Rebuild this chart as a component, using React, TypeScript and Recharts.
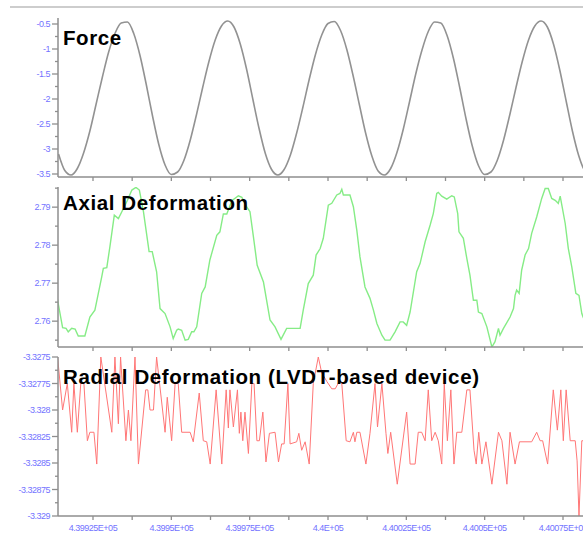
import React from "react";
import { LineChart, Line, XAxis, YAxis } from "recharts";

// shared time axis (s)
const TIME_DOMAIN: [number, number] = [439913.83, 440085.21];
const timeTicks = [
  439925, 439937.5, 439950, 439962.5, 439975, 439987.5, 440000,
  440012.5, 440025, 440037.5, 440050, 440062.5, 440075,
];

// force channel, sampled every 2 s from 439914
const forceStart = 439914;
const forceStep = 2;
const forceValues = [
  -3.1, -3.43, -3.52, -3.39, -3.08, -2.64, -2.1, -1.56, -1.06, -0.69,
  -0.48, -0.46, -0.69, -1.13, -1.71, -2.34, -2.91, -3.32, -3.51, -3.46,
  -3.23, -2.83, -2.32, -1.77, -1.25, -0.82, -0.54, -0.44, -0.56, -0.9,
  -1.4, -2.0, -2.59, -3.09, -3.41, -3.52, -3.41, -3.12, -2.68, -2.16,
  -1.61, -1.11, -0.72, -0.49, -0.45, -0.63, -1.01, -1.53, -2.11, -2.68,
  -3.14, -3.44, -3.52, -3.39, -3.07, -2.61, -2.06, -1.5, -1.02, -0.65,
  -0.46, -0.48, -0.73, -1.18, -1.76, -2.38, -2.93, -3.33, -3.51, -3.46,
  -3.23, -2.83, -2.32, -1.77, -1.25, -0.82, -0.54, -0.44, -0.56, -0.91,
  -1.43, -2.04, -2.64, -3.13, -3.44, -3.52, -3.43,
];

const axialTime = [
  439913.6, 439915.3, 439916.4, 439917.1, 439918.2, 439919.3, 439920.3, 439922.4, 439924.0, 439925.6,
  439926.7, 439927.8, 439928.3, 439929.4, 439930.4, 439931.8, 439933.1, 439934.2, 439936.0, 439937.4,
  439938.7, 439939.8, 439941.1, 439942.9, 439943.9, 439945.3, 439946.4, 439948.0, 439949.6, 439950.6,
  439951.7, 439952.2, 439953.3, 439954.4, 439955.4, 439956.5, 439957.2, 439958.1, 439959.7, 439960.8,
  439962.3, 439964.5, 439965.5, 439966.6, 439967.7, 439969.3, 439971.4, 439972.5, 439974.1, 439975.1,
  439976.2, 439977.4, 439979.4, 439981.5, 439983.1, 439985.0, 439986.8, 439991.1, 439992.1, 439993.7,
  439995.3, 439996.2, 439997.5, 439998.5, 440000.1, 440001.2, 440002.8, 440003.8, 440004.4, 440004.9,
  440007.0, 440008.1, 440009.2, 440010.2, 440011.8, 440013.4, 440014.5, 440015.6, 440017.2, 440018.2,
  440019.8, 440021.4, 440023.0, 440024.0, 440025.1, 440026.2, 440028.3, 440029.4, 440031.0, 440032.6,
  440033.6, 440034.7, 440035.2, 440036.3, 440037.9, 440039.5, 440040.3, 440041.4, 440041.8, 440043.2,
  440044.3, 440045.3, 440046.4, 440047.5, 440048.0, 440049.1, 440050.7, 440052.3, 440053.3, 440054.4,
  440054.9, 440056.0, 440058.1, 440059.2, 440059.7, 440060.2, 440061.0, 440061.8, 440062.9, 440064.0,
  440065.0, 440066.6, 440068.2, 440069.3, 440070.3, 440071.4, 440072.5, 440073.5, 440074.1, 440075.7,
  440076.7, 440077.8, 440079.1, 440080.1, 440081.0, 440081.4, 440083.6,
];
const axialValues = [
  2.766, 2.7583, 2.7581, 2.7572, 2.7581, 2.7579, 2.7561, 2.7561, 2.7611, 2.7629,
  2.7673, 2.7717, 2.7739, 2.7741, 2.7796, 2.7879, 2.787, 2.7888, 2.7918, 2.7945,
  2.7952, 2.7945, 2.7888, 2.7783, 2.7783, 2.773, 2.7633, 2.762, 2.7585, 2.7554,
  2.7576, 2.7579, 2.7576, 2.755, 2.7552, 2.7572, 2.7572, 2.7585, 2.7673, 2.769,
  2.7761, 2.7826, 2.7835, 2.7882, 2.7882, 2.7917, 2.793, 2.7926, 2.79, 2.7888,
  2.7822, 2.7747, 2.7703, 2.7603, 2.7585, 2.7552, 2.7581, 2.7581, 2.7629, 2.7699,
  2.7721, 2.7774, 2.7791, 2.7818, 2.7905, 2.791, 2.7932, 2.7936, 2.7947, 2.7932,
  2.7932, 2.7901, 2.7839, 2.7769, 2.769, 2.766, 2.7629, 2.7594, 2.7563, 2.755,
  2.755, 2.7572, 2.7598, 2.7598, 2.7589, 2.7624, 2.773, 2.7752, 2.7809, 2.7853,
  2.7883, 2.7936, 2.7939, 2.7929, 2.7921, 2.793, 2.7927, 2.7883, 2.7835, 2.7818,
  2.7765, 2.7721, 2.7655, 2.7655, 2.7624, 2.762, 2.7585, 2.7532, 2.7546, 2.7581,
  2.7563, 2.7581, 2.7611, 2.7633, 2.7668, 2.7682, 2.7673, 2.7734, 2.7774, 2.7791,
  2.7831, 2.7874, 2.7923, 2.7949, 2.7949, 2.7923, 2.7918, 2.791, 2.7929, 2.7857,
  2.7791, 2.7743, 2.7673, 2.7668, 2.762, 2.7611, 2.757,
];

const radialTime = [
  439913.7, 439915.3, 439916.8, 439918.2, 439918.9, 439920.0, 439921.1, 439922.1, 439923.2, 439924.0,
  439925.3, 439926.2, 439927.5, 439931.0, 439932.0, 439933.1, 439933.8, 439935.5, 439936.3, 439937.1,
  439938.4, 439939.5, 439941.8, 439942.5, 439943.2, 439944.3, 439945.3, 439948.0, 439948.7, 439950.1,
  439951.2, 439952.2, 439953.3, 439956.0, 439957.0, 439958.9, 439960.2, 439961.3, 439962.4, 439964.3,
  439966.1, 439967.5, 439968.2, 439968.7, 439969.8, 439971.1, 439971.7, 439972.2, 439972.8, 439973.5,
  439974.6, 439975.7, 439976.4, 439977.3, 439978.1, 439979.2, 439980.2, 439981.3, 439983.1, 439984.2,
  439985.2, 439986.0, 439987.2, 439987.9, 439990.0, 439990.7, 439991.6, 439992.7, 439994.0, 439995.3,
  439996.9, 439998.0, 439999.6, 440001.2, 440002.3, 440003.6, 440004.4, 440005.8, 440007.0, 440008.1,
  440008.6, 440009.2, 440010.2, 440012.1, 440013.4, 440015.0, 440015.8, 440017.2, 440018.5, 440019.1,
  440020.0, 440022.1, 440025.1, 440026.2, 440027.8, 440028.8, 440029.9, 440031.0, 440032.0, 440033.1,
  440034.2, 440035.2, 440036.3, 440037.1, 440038.1, 440039.2, 440040.2, 440041.1, 440042.7, 440044.3,
  440045.3, 440046.6, 440047.3, 440048.1, 440049.1, 440050.4, 440052.3, 440054.4, 440055.5, 440057.1,
  440058.1, 440059.7, 440061.1, 440065.0, 440066.6, 440067.7, 440068.5, 440070.1, 440071.9, 440073.2,
  440074.3, 440075.1, 440076.0, 440077.3, 440078.9, 440079.5, 440080.1, 440081.0, 440083.6,
];
const radialValues = [
  -3.3275, -3.328, -3.32775, -3.32821, -3.32775, -3.32821, -3.32775, -3.32775, -3.32829, -3.32821,
  -3.32821, -3.32851, -3.3275, -3.32821, -3.3275, -3.32813, -3.3275, -3.32829, -3.328, -3.32829,
  -3.3275, -3.32851, -3.32781, -3.32781, -3.328, -3.328, -3.3275, -3.32821, -3.32788, -3.32829,
  -3.32775, -3.32775, -3.32821, -3.32821, -3.3283, -3.32784, -3.32829, -3.3283, -3.32851, -3.32781,
  -3.32851, -3.32781, -3.32817, -3.32781, -3.32816, -3.32781, -3.32822, -3.32802, -3.32829, -3.32802,
  -3.32841, -3.32775, -3.32775, -3.32829, -3.32829, -3.32802, -3.32849, -3.32822, -3.32821, -3.32849,
  -3.32832, -3.32832, -3.32775, -3.32832, -3.3283, -3.32822, -3.32838, -3.3283, -3.32851, -3.32775,
  -3.3275, -3.32765, -3.32773, -3.3278, -3.3278, -3.32773, -3.32775, -3.32829, -3.3283, -3.32821,
  -3.3283, -3.32821, -3.32821, -3.32851, -3.32822, -3.32775, -3.32816, -3.32775, -3.32822, -3.32841,
  -3.32821, -3.3287, -3.32802, -3.32851, -3.32851, -3.32821, -3.32821, -3.32829, -3.32781, -3.32829,
  -3.32821, -3.32829, -3.32851, -3.32775, -3.32829, -3.32781, -3.32851, -3.32821, -3.32821, -3.32781,
  -3.32781, -3.32838, -3.32851, -3.32821, -3.32851, -3.3283, -3.3287, -3.32821, -3.32829, -3.3287,
  -3.32821, -3.32851, -3.3283, -3.3283, -3.32821, -3.32829, -3.32829, -3.32851, -3.32781, -3.32819,
  -3.32781, -3.32829, -3.32781, -3.32829, -3.32829, -3.32848, -3.329, -3.32829, -3.32829,
];

// value axes: labelled ticks and the short ones in between
const forceTicks = [-0.5, -1, -1.5, -2, -2.5, -3, -3.5];
const forceMinor = [-0.75, -1.25, -1.75, -2.25, -2.75, -3.25];
const axialTicks = [2.79, 2.78, 2.77, 2.76];
const axialMinor = [2.795, 2.785, 2.775, 2.765, 2.755];
const radialTicks = [-3.3275, -3.32775, -3.328, -3.32825, -3.3285, -3.32875, -3.329];
const radialMinor = [-3.327625, -3.327875, -3.328125, -3.328375, -3.328625, -3.328875];

const forceRows = forceValues.map((v, i) => ({ t: forceStart + i * forceStep, v }));
const axialRows = axialValues.map((v, i) => ({ t: axialTime[i], v }));
const radialRows = radialValues.map((v, i) => ({ t: radialTime[i], v }));

const FONT = "'Liberation Sans', Arial, Helvetica, sans-serif";
const AXIS_GREY = "#8e8e8e";
const LABEL_BLUE = "#7373ff";
const TICK_SIZE = 6;
const TICK_GAP = 2;
const CHART_W = 595;
const LEFT = 58;

const fmtValue = (v: number) => String(Number(v.toFixed(6)));
const fmtTime = (v: number) => (v % 25 === 0 ? `${Number((v / 1e5).toFixed(6))}E+05` : "");

function ValueTick({ x, y, payload, majors }: any) {
  const axisX = x + TICK_SIZE + TICK_GAP;
  const major = majors.includes(payload.value);
  return (
    <g>
      <line x1={axisX - (major ? 6 : 3)} x2={axisX} y1={y} y2={y} stroke={AXIS_GREY} strokeWidth={1.3} />
      {major && (
        <text x={x} y={y} dy="0.35em" textAnchor="end" fill={LABEL_BLUE} fontSize={9} letterSpacing={-0.5}>
          {fmtValue(payload.value)}
        </text>
      )}
    </g>
  );
}

type PanelProps = {
  rows: { t: number; v: number }[];
  domain: [number, number];
  majors: number[];
  minors: number[];
  color: string;
  width: number;
  curve: "linear" | "monotone";
  top: number;
  plotHeight: number;
  timeLabels?: boolean;
};

function Panel({ rows, domain, majors, minors, color, width, curve, top, plotHeight, timeLabels }: PanelProps) {
  const xh = timeLabels ? 22 : 6;
  return (
    <div style={{ position: "absolute", left: 0, top: top - 10 }}>
      <LineChart
        width={CHART_W}
        height={10 + plotHeight + xh}
        data={rows}
        margin={{ top: 10, right: 0, bottom: 0, left: 0 }}
      >
        <XAxis
          dataKey="t"
          type="number"
          domain={TIME_DOMAIN}
          allowDataOverflow
          ticks={timeTicks}
          interval={0}
          height={xh}
          tickSize={4}
          tickMargin={5}
          stroke={AXIS_GREY}
          strokeWidth={1.3}
          tickFormatter={timeLabels ? fmtTime : () => ""}
          tick={{ fill: LABEL_BLUE, fontSize: 9, letterSpacing: -0.5 }}
        />
        <YAxis
          type="number"
          domain={domain}
          allowDataOverflow
          ticks={[...majors, ...minors]}
          interval={0}
          width={LEFT}
          tickSize={TICK_SIZE}
          tickMargin={TICK_GAP}
          tickLine={false}
          axisLine={{ stroke: AXIS_GREY, strokeWidth: 1.5 }}
          tick={(p: any) => <ValueTick {...p} majors={majors} />}
        />
        <Line
          type={curve}
          dataKey="v"
          stroke={color}
          strokeWidth={width}
          dot={false}
          activeDot={false}
          isAnimationActive={false}
        />
      </LineChart>
    </div>
  );
}

const titleStyle = {
  fontFamily: FONT,
  fontWeight: 700,
  fontSize: 20.5,
  letterSpacing: 0.6,
  fill: "#000",
};

export default function App() {
  return (
    <div
      style={{
        position: "absolute",
        left: 0,
        top: 0,
        width: 583,
        height: 534,
        overflow: "hidden",
        background: "#fff",
        fontFamily: FONT,
      }}
    >
      <div style={{ position: "absolute", left: 10, top: 6, width: 580, height: 2, background: "#cdcdcd" }} />
      <Panel rows={forceRows} domain={[-3.56, -0.38]} majors={forceTicks} minors={forceMinor}
        color="#929292" width={1.6} curve="monotone" top={18} plotHeight={159} />
      <Panel rows={axialRows} domain={[2.7532, 2.7953]} majors={axialTicks} minors={axialMinor}
        color="#86ec86" width={1.4} curve="linear" top={187} plotHeight={160} />
      <Panel rows={radialRows} domain={[-3.329, -3.3275]} majors={radialTicks} minors={radialMinor}
        color="#ff7676" width={1} curve="linear" top={357} plotHeight={159} timeLabels />
      <svg width={583} height={534} style={{ position: "absolute", left: 0, top: 0, pointerEvents: "none" }}>
        <text x={63} y={44.5} style={titleStyle}>Force</text>
        <text x={63} y={209.5} style={titleStyle}>Axial Deformation</text>
        <text x={63} y={383.5} style={titleStyle}>Radial Deformation (LVDT-based device)</text>
      </svg>
    </div>
  );
}
